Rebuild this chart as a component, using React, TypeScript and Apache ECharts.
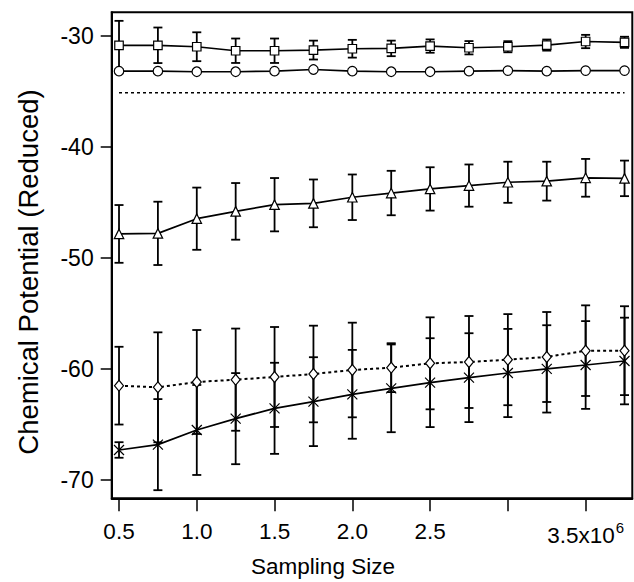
import React, { useEffect, useRef } from "react";
import * as echarts from "echarts";

const xs = [0.5, 0.75, 1.0, 1.25, 1.5, 1.75, 2.0, 2.25, 2.5, 2.75, 3.0, 3.25, 3.5, 3.75];

const squareY = [-30.87, -30.87, -31.0, -31.36, -31.36, -31.3, -31.18, -31.15, -30.94, -31.09, -31.0, -30.85, -30.53, -30.6];
const squareErr = [2.2, 1.6, 1.3, 1.1, 1.1, 0.85, 0.8, 0.7, 0.6, 0.6, 0.5, 0.5, 0.6, 0.5];

const circleY = [-33.2, -33.2, -33.25, -33.25, -33.2, -33.05, -33.2, -33.25, -33.25, -33.2, -33.15, -33.2, -33.15, -33.15];

const refX = [0.5, 3.75];
const refY = [-35.15, -35.15];

const triY = [-47.85, -47.8, -46.48, -45.82, -45.22, -45.1, -44.55, -44.17, -43.8, -43.5, -43.2, -43.1, -42.8, -42.85];
const triErr = [2.6, 2.85, 2.8, 2.55, 2.4, 2.15, 2.05, 2.0, 1.95, 1.9, 1.85, 1.75, 1.7, 1.6];

const diaY = [-61.51, -61.66, -61.18, -60.97, -60.73, -60.46, -60.1, -59.89, -59.5, -59.38, -59.17, -58.93, -58.36, -58.36];
const diaErr = [3.5, 4.95, 4.68, 4.6, 4.5, 4.35, 4.26, 2.2, 4.14, 4.14, 4.1, 4.05, 4.08, 4.0];

const crossY = [-67.3, -66.82, -65.5, -64.48, -63.55, -62.95, -62.29, -61.75, -61.24, -60.79, -60.37, -60.0, -59.65, -59.29];
const crossErr = [0.7, 4.1, 4.05, 4.1, 4.1, 4.0, 4.0, 3.95, 4.0, 4.0, 3.97, 3.93, 3.95, 3.9];

const xTicks = [0.5, 1.0, 1.5, 2.0, 2.5, 3.0, 3.5];
const xLabelValues = [0.5, 1.0, 1.5, 2.0, 2.5, 3.5];
const yTicks = [-70, -60, -50, -40, -30];

const FONT = "'Liberation Sans', Arial, Helvetica, sans-serif";

function pts(ys: number[]) {
  return xs.map((x, i) => [x, ys[i]]);
}

function errData(ys: number[], errs: number[]) {
  return xs.map((x, i) => [x, ys[i] - errs[i], ys[i] + errs[i]]);
}

function errorSeries(ys: number[], errs: number[]) {
  return {
    type: "custom",
    z: 1,
    data: errData(ys, errs),
    renderItem: (params: any, api: any) => {
      const x = api.value(0);
      const lo = api.coord([x, api.value(1)]);
      const hi = api.coord([x, api.value(2)]);
      const hw = 4.5;
      const style = { stroke: "#000", lineWidth: 1.8 };
      return {
        type: "group",
        children: [
          { type: "line", shape: { x1: lo[0], y1: lo[1], x2: hi[0], y2: hi[1] }, style },
          { type: "line", shape: { x1: lo[0] - hw, y1: lo[1], x2: lo[0] + hw, y2: lo[1] }, style },
          { type: "line", shape: { x1: hi[0] - hw, y1: hi[1], x2: hi[0] + hw, y2: hi[1] }, style },
        ],
      };
    },
  };
}

function lineSeries(ys: number[], symbol: string, size: any, dashed = false) {
  return {
    type: "line",
    z: 3,
    data: pts(ys),
    symbol,
    symbolSize: size,
    showAllSymbol: true,
    lineStyle: { color: "#000", width: dashed ? 2 : 1.7, type: dashed ? [3, 3] : "solid" },
    itemStyle: { color: "#fff", borderColor: "#000", borderWidth: 1.2 },
  };
}

export default function App() {
  const ref = useRef<HTMLDivElement>(null);
  useEffect(() => {
    if (!ref.current) return;
    const chart = echarts.init(ref.current, null, { renderer: "svg" });
    chart.setOption({
      animation: false,
      backgroundColor: "#fff",
      grid: {
        left: 111.7,
        top: 12.3,
        right: 1.7,
        bottom: 83.7,
        show: true,
        borderColor: "#000",
        borderWidth: 2,
        backgroundColor: "transparent",
      },
      xAxis: {
        type: "value",
        min: 0.453,
        max: 3.8,
        splitLine: { show: false },
        axisLine: { show: true, onZero: false, lineStyle: { color: "#000", width: 2 } },
        axisTick: { show: true, inside: false, length: 13, customValues: xTicks, lineStyle: { color: "#000", width: 1.5 } },
        axisLabel: {
          customValues: xLabelValues,
          margin: 22,
          color: "#000",
          fontFamily: FONT,
          fontSize: 22.5,
          formatter: (v: number) => (Math.abs(v - 3.5) < 1e-6 ? "{a|3.5x10}{s|6}" : v.toFixed(1)),
          rich: {
            a: { fontFamily: FONT, fontSize: 22.5, color: "#000" },
            s: { fontFamily: FONT, fontSize: 15, color: "#000", padding: [0, 0, 16, 1] },
          },
        },
      },
      yAxis: {
        type: "value",
        min: -71.65,
        max: -27.9,
        splitLine: { show: false },
        axisLine: { show: true, onZero: false, lineStyle: { color: "#000", width: 2 } },
        axisTick: { show: true, inside: false, length: 11, customValues: yTicks, lineStyle: { color: "#000", width: 1.5 } },
        axisLabel: {
          customValues: yTicks,
          margin: 18,
          color: "#000",
          fontFamily: FONT,
          fontSize: 23,
          formatter: (v: number) => String(Math.round(v)),
        },
      },
      graphic: [
        {
          type: "text",
          x: 323,
          y: 566,
          style: {
            text: "Sampling Size",
            fontFamily: FONT,
            fontSize: 22.5,
            fill: "#000",
            textAlign: "center",
            textVerticalAlign: "middle",
          },
        },
        {
          type: "text",
          x: 28,
          y: 272,
          rotation: Math.PI / 2,
          style: {
            text: "Chemical Potential (Reduced)",
            fontFamily: FONT,
            fontSize: 27.5,
            fill: "#000",
            textAlign: "center",
            textVerticalAlign: "middle",
          },
        },
      ],
      series: [
        errorSeries(squareY, squareErr),
        errorSeries(triY, triErr),
        errorSeries(diaY, diaErr),
        errorSeries(crossY, crossErr),
        {
          type: "line",
          z: 2,
          data: refX.map((x, i) => [x, refY[i]]),
          symbol: "none",
          lineStyle: { color: "#000", width: 1.5, type: [3, 3] },
        },
        lineSeries(squareY, "rect", 8.5),
        lineSeries(circleY, "circle", 9.5),
        lineSeries(triY, "triangle", 9.5),
        lineSeries(diaY, "diamond", [9, 11], true),
        lineSeries(crossY, "path://M0,0L10,10M10,0L0,10", 10),
      ],
    });
    return () => chart.dispose();
  }, []);
  return (
    <div
      ref={ref}
      style={{ position: "absolute", left: 0, top: 0, width: 634, height: 582, background: "#fff" }}
    />
  );
}
